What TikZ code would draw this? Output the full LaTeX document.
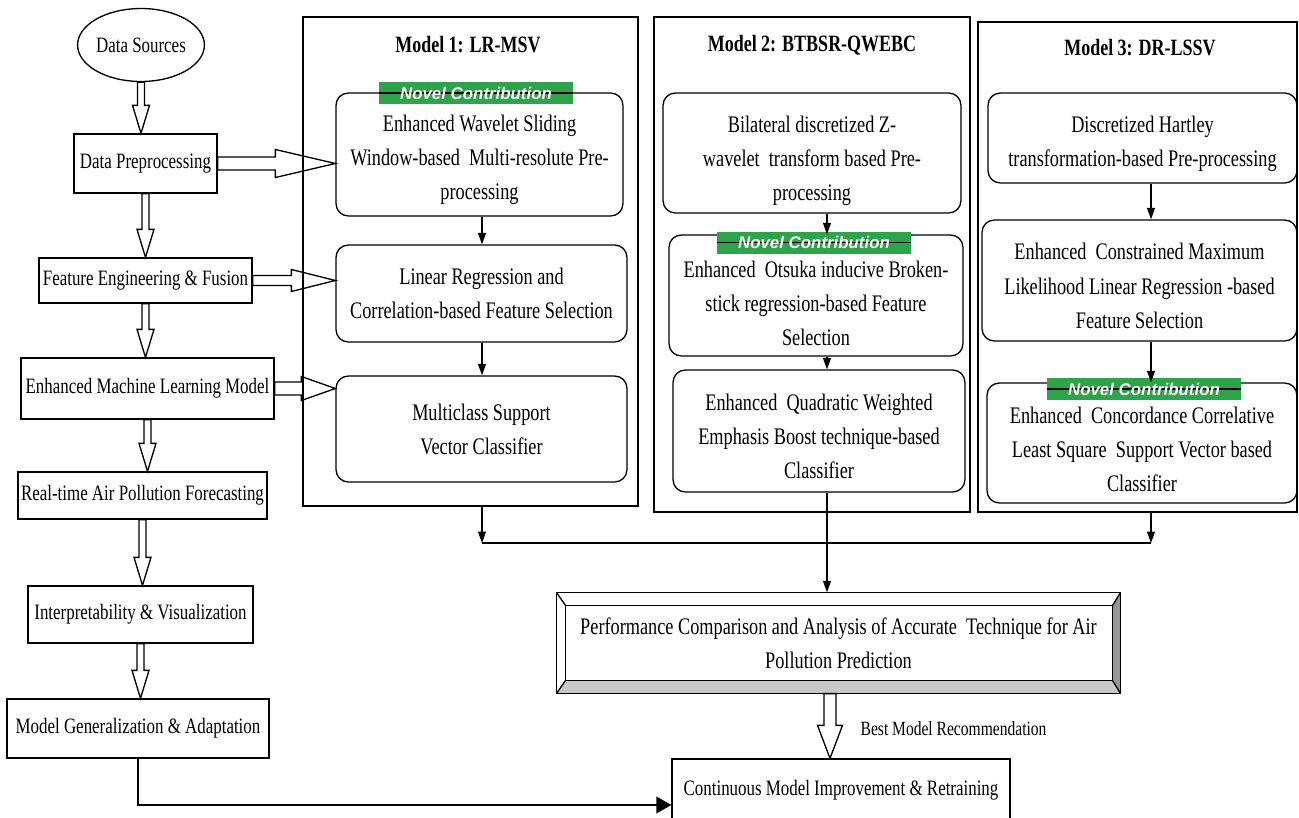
\documentclass[tikz,border=0pt]{standalone}
\usepackage{fontspec}
\setmainfont{Liberation Serif}[FakeStretch=0.77]
\setsansfont{Liberation Sans}
\usepackage{xcolor}
\usetikzlibrary{shapes.geometric,arrows.meta,calc}
\definecolor{novelgreen}{RGB}{46,164,74}
\definecolor{bevellight}{RGB}{200,200,200}
\definecolor{beveldark}{RGB}{150,150,150}
\newcommand{\mainsize}{\fontsize{12.5}{19}\selectfont}
\newcommand{\subsize}{\fontsize{13.5}{19.4}\selectfont}
\newcommand{\novelfont}{\sffamily\bfseries\itshape\fontsize{9.6}{11}\selectfont}
\newcommand{\dropline}[1]{\rule{0pt}{#1}}

\begin{document}
\begin{tikzpicture}[x=0.02cm, y=-0.02cm, line width=0.75pt,
    stage/.style={draw, font=\mainsize, inner sep=0pt},
    modelbox/.style={draw, line width=0.9pt, inner sep=0pt},
    subbox/.style={draw, rounded corners=7pt, font=\subsize, align=center, inner sep=0pt},
    title/.style={font=\bfseries\fontsize{13.3}{16}\selectfont, inner sep=0pt},
    novel/.style={fill=novelgreen, text=white, font=\novelfont, inner sep=0pt,
      minimum width=3.88cm, minimum height=0.44cm,
      path picture={\draw[line width=0.9pt] (path picture bounding box.west) -- (path picture bounding box.east);}},
    flow/.style={-{Triangle[length=6.5pt,width=4.5pt]}},
    bigflow/.style={-{Triangle[length=8.5pt,width=9.5pt]}},
    hollow/.style n args={3}{to path={
      (\tikztostart) coordinate (ha-s) (\tikztotarget) coordinate (ha-t)
      ($(ha-t)!#3!(ha-s)$) coordinate (ha-n)
      ($(ha-s)!#1!90:(ha-t)$) -- ($(ha-n)!#1!90:(ha-t)$) -- ($(ha-n)!#2!90:(ha-t)$)
      -- (ha-t) -- ($(ha-n)!#2!-90:(ha-t)$) -- ($(ha-n)!#1!-90:(ha-t)$)
      -- ($(ha-s)!#1!-90:(ha-t)$) -- cycle}},
    vhollow/.style={hollow={0.07cm}{0.17cm}{0.56cm}}]
  \useasboundingbox (0,0) rectangle (1299,818);

  \node[draw, ellipse, font=\mainsize, inner sep=0pt, minimum width=2.36cm, minimum height=1.46cm] (src) at (141,45) {Data Sources};
  \node[stage, minimum width=2.86cm, minimum height=1.18cm] (prep) at (145.5,163.5) {Data Preprocessing};
  \node[stage, minimum width=4.26cm, minimum height=0.9cm] (feat) at (145.5,280.5) {Feature Engineering \& Fusion};
  \node[stage, minimum width=5.06cm, minimum height=1.22cm] (eml) at (147.5,388.5) {Enhanced Machine Learning Model};
  \node[stage, minimum width=4.98cm, minimum height=0.94cm] (rtf) at (142.5,495.5) {Real-time Air Pollution Forecasting};
  \node[stage, minimum width=4.5cm, minimum height=1.14cm] (viz) at (140.5,614.5) {Interpretability \& Visualization};
  \node[stage, minimum width=5.24cm, minimum height=1.18cm] (gen) at (138,728.5) {Model Generalization \& Adaptation};

  \draw (src.south) to[vhollow] (src.south |- prep.north);
  \draw (prep.south) to[vhollow] (prep.south |- feat.north);
  \draw (feat.south) to[vhollow] (feat.south |- eml.north);
  \draw (eml.south) to[vhollow] (eml.south |- rtf.north);
  \draw (rtf.south) to[vhollow] (rtf.south |- viz.north);
  \draw (viz.south) to[vhollow] (viz.south |- gen.north);

  % the three models
  \node[modelbox, minimum width=6.7cm, minimum height=9.78cm] (m1) at (470.5,261.5) {};
  \node[modelbox, minimum width=6.32cm, minimum height=9.9cm] (m2) at (812,264.5) {};
  \node[modelbox, minimum width=6.38cm, minimum height=9.8cm] (m3) at (1137.5,267) {};
  \node[title] (m1t) at (468,45) {Model 1: LR-MSV};
  \node[title] (m2t) at (812,45) {Model 2: BTBSR-QWEBC};
  \node[title] (m3t) at (1140,48) {Model 3: DR-LSSV};

  \node[subbox, minimum width=5.74cm, minimum height=2.46cm] (m1a) at (479.5,154.5)
    {\dropline{15.5pt}Enhanced Wavelet Sliding\\Window-based\ \ Multi-resolute Pre-\\processing};
  \node[subbox, minimum width=5.82cm, minimum height=1.94cm] (m1b) at (481.5,293.5)
    {Linear Regression and\\Correlation-based Feature Selection};
  \node[subbox, minimum width=5.82cm, minimum height=2.12cm] (m1c) at (481.5,429)
    {Multiclass Support\\Vector Classifier};
  \node[novel] (nc1) at (476,93) {Novel Contribution};

  \node[subbox, minimum width=5.96cm, minimum height=2.4cm] (m2a) at (812,153)
    {\dropline{18.5pt}Bilateral discretized Z-\\wavelet\ \ transform based Pre-\\processing};
  \node[subbox, minimum width=5.88cm, minimum height=2.42cm] (m2b) at (816,295.5)
    {\dropline{18pt}Enhanced\ \ Otsuka inducive Broken-\\stick regression-based Feature\\Selection};
  \node[subbox, minimum width=5.84cm, minimum height=2.44cm] (m2c) at (819,431)
    {\dropline{15.5pt}Enhanced\ \ Quadratic Weighted\\Emphasis Boost technique-based\\Classifier};
  \node[novel] (nc2) at (814,242.5) {Novel Contribution};

  \node[subbox, minimum width=6.18cm, minimum height=1.8cm] (m3a) at (1142.5,138)
    {\dropline{15.5pt}Discretized Hartley\\transformation-based Pre-processing};
  \node[subbox, minimum width=6.3cm, minimum height=2.42cm] (m3b) at (1139.5,280.5)
    {\dropline{15.5pt}Enhanced\ \ Constrained Maximum\\Likelihood Linear Regression -based\\Feature Selection};
  \node[subbox, minimum width=6.2cm, minimum height=2.4cm] (m3c) at (1142,443)
    {\dropline{16.5pt}Enhanced\ \ Concordance Correlative\\Least Square\ \ Support Vector based\\Classifier};
  \node[novel] (nc3) at (1144,389) {Novel Contribution};

  \draw (prep.east) to[hollow={0.13cm}{0.28cm}{1.2cm}] (prep.east -| m1a.west);
  \draw (feat.east) to[hollow={0.1cm}{0.22cm}{0.88cm}] (feat.east -| m1b.west);
  \draw (eml.east) to[hollow={0.13cm}{0.24cm}{0.68cm}] (eml.east -| m1c.west);

  \coordinate (m1x) at (482,0);
  \coordinate (m2x) at (827,0);
  \coordinate (m3x) at (1151,0);
  \draw[flow] (m1a.south -| m1x) -- (m1b.north -| m1x);
  \draw[flow] (m1b.south -| m1x) -- (m1c.north -| m1x);
  \draw[flow] (m2a.south -| m2x) -- (m2b.north -| m2x);
  \draw[flow] (m2b.south -| m2x) -- (m2c.north -| m2x);
  \draw[flow] (m3a.south -| m3x) -- (m3b.north -| m3x);
  \draw[flow] (m3b.south -| m3x) -- (m3c.north -| m3x);

  % comparison stage
  \node[font=\subsize, align=center, inner sep=0pt, minimum width=11.26cm, minimum height=2cm] (perf) at (838.5,643)
    {Performance Comparison and Analysis of Accurate\ \ Technique for Air\\Pollution Prediction};
  \coordinate (p-sw) at ($(perf.south west)+(9,-13)$);
  \coordinate (p-se) at ($(perf.south east)+(-8,-13)$);
  \coordinate (p-ne) at ($(perf.north east)+(-8,13)$);
  \coordinate (p-nw) at ($(perf.north west)+(9,13)$);
  \fill[bevellight] (perf.south west) -- (perf.south east) -- (p-se) -- (p-sw) -- cycle;
  \fill[beveldark] (perf.south east) -- (perf.north east) -- (p-ne) -- (p-se) -- cycle;
  \draw (perf.south west) rectangle (perf.north east);
  \draw (p-sw) rectangle (p-ne);
  \draw (perf.south west) -- (p-sw) (perf.south east) -- (p-se)
        (perf.north east) -- (p-ne) (perf.north west) -- (p-nw);

  \coordinate (jl) at (482,543);
  \coordinate (jr) at (1151,543);
  \draw[flow] (m1.south -| jl) -- (jl);
  \draw[flow] (m3.south -| jr) -- (jr);
  \draw (jl) -- (jr);
  \draw[flow] (m2c.south -| m2x) -- (perf.north -| m2x);

  \node[stage, minimum width=6.76cm, minimum height=1.24cm] (cont) at (841,790) {Continuous Model Improvement \& Retraining};
  \coordinate (bx) at (830,0);
  \draw (perf.south -| bx) to[hollow={0.12cm}{0.25cm}{0.66cm}] (cont.north -| bx);
  \node[font=\fontsize{11.5}{14}\selectfont, anchor=west, inner sep=0pt] (best) at (860,729) {Best Model Recommendation};

  \draw[bigflow] (gen.south) |- ($(cont.west)+(0,15)$);
\end{tikzpicture}
\end{document}
